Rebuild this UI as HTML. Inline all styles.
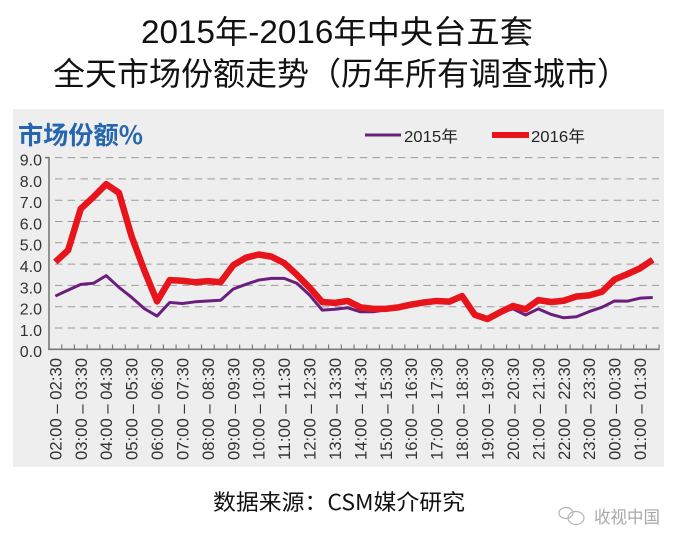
<!DOCTYPE html>
<html>
<head>
<meta charset="utf-8">
<style>
html,body{margin:0;padding:0;background:#fff;}
svg{display:block;}
</style>
</head>
<body>
<svg width="682" height="541" viewBox="0 0 682 541" xmlns="http://www.w3.org/2000/svg">
  <rect x="0" y="0" width="682" height="541" fill="#ffffff"/>
  <!-- Titles -->
  <text x="141" y="43" font-family="'Liberation Sans','Noto Sans CJK SC',sans-serif" font-size="32" fill="#111" textLength="392" lengthAdjust="spacingAndGlyphs">2015年-2016年中央台五套</text>
  <text x="53" y="85" font-family="'Noto Sans CJK SC',sans-serif" font-size="32" fill="#111" textLength="576" lengthAdjust="spacingAndGlyphs">全天市场份额走势（历年所有调查城市）</text>

  <!-- Gray panel -->
  <rect x="13" y="109" width="651" height="358" fill="#eeeeee"/>

  <!-- Panel title -->
  <text x="18" y="144" font-family="'Noto Sans CJK SC',sans-serif" font-size="25" font-weight="bold" fill="#2566ae" textLength="125" lengthAdjust="spacingAndGlyphs">市场份额%</text>

  <!-- Legend -->
  <line x1="365" y1="135" x2="401" y2="135" stroke="#6b1f7c" stroke-width="3"/>
  <text x="404" y="142" font-family="'Liberation Sans','Noto Sans CJK SC',sans-serif" font-size="16" fill="#222" textLength="54" lengthAdjust="spacingAndGlyphs">2015年</text>
  <line x1="492" y1="135" x2="529" y2="135" stroke="#e8141c" stroke-width="6"/>
  <text x="531" y="142" font-family="'Liberation Sans','Noto Sans CJK SC',sans-serif" font-size="16" fill="#222" textLength="54" lengthAdjust="spacingAndGlyphs">2016年</text>

  <!-- Gridlines -->
  <g stroke="#9a9a9a" stroke-width="1" stroke-dasharray="7.5 5.2">
    <line x1="55" y1="157.6" x2="659" y2="157.6"/>
    <line x1="55" y1="178.9" x2="659" y2="178.9"/>
    <line x1="55" y1="200.2" x2="659" y2="200.2"/>
    <line x1="55" y1="221.5" x2="659" y2="221.5"/>
    <line x1="55" y1="242.8" x2="659" y2="242.8"/>
    <line x1="55" y1="264.1" x2="659" y2="264.1"/>
    <line x1="55" y1="285.4" x2="659" y2="285.4"/>
    <line x1="55" y1="306.7" x2="659" y2="306.7"/>
    <line x1="55" y1="328.0" x2="659" y2="328.0"/>
  </g>

  <!-- Y labels -->
  <g font-family="'Liberation Sans',sans-serif" font-size="16" fill="#333" text-anchor="end">
    <text x="42" y="165.5">9.0</text>
    <text x="42" y="186.8">8.0</text>
    <text x="42" y="208.1">7.0</text>
    <text x="42" y="229.4">6.0</text>
    <text x="42" y="250.7">5.0</text>
    <text x="42" y="272.0">4.0</text>
    <text x="42" y="293.3">3.0</text>
    <text x="42" y="314.6">2.0</text>
    <text x="42" y="335.9">1.0</text>
    <text x="42" y="357.2">0.0</text>
  </g>

  <!-- Axes -->
  <g stroke="#7a7a7a" stroke-width="1.6" fill="none">
    <line x1="49" y1="157" x2="49" y2="349.3"/>
    <line x1="45" y1="157.6" x2="49" y2="157.6"/>
    <line x1="48.2" y1="349.3" x2="659.5" y2="349.3"/>
  </g>
  <g stroke="#7a7a7a" stroke-width="1.2">
    <line x1="61.71" y1="349" x2="61.71" y2="344.5"/><line x1="74.42" y1="349" x2="74.42" y2="344.5"/><line x1="87.13" y1="349" x2="87.13" y2="344.5"/><line x1="99.84" y1="349" x2="99.84" y2="344.5"/><line x1="112.55" y1="349" x2="112.55" y2="344.5"/><line x1="125.26" y1="349" x2="125.26" y2="344.5"/><line x1="137.97" y1="349" x2="137.97" y2="344.5"/><line x1="150.68" y1="349" x2="150.68" y2="344.5"/><line x1="163.39" y1="349" x2="163.39" y2="344.5"/><line x1="176.1" y1="349" x2="176.1" y2="344.5"/><line x1="188.81" y1="349" x2="188.81" y2="344.5"/><line x1="201.52" y1="349" x2="201.52" y2="344.5"/><line x1="214.23" y1="349" x2="214.23" y2="344.5"/><line x1="226.94" y1="349" x2="226.94" y2="344.5"/><line x1="239.65" y1="349" x2="239.65" y2="344.5"/><line x1="252.36" y1="349" x2="252.36" y2="344.5"/><line x1="265.07" y1="349" x2="265.07" y2="344.5"/><line x1="277.78" y1="349" x2="277.78" y2="344.5"/><line x1="290.49" y1="349" x2="290.49" y2="344.5"/><line x1="303.2" y1="349" x2="303.2" y2="344.5"/><line x1="315.91" y1="349" x2="315.91" y2="344.5"/><line x1="328.62" y1="349" x2="328.62" y2="344.5"/><line x1="341.33" y1="349" x2="341.33" y2="344.5"/><line x1="354.04" y1="349" x2="354.04" y2="344.5"/><line x1="366.75" y1="349" x2="366.75" y2="344.5"/><line x1="379.46" y1="349" x2="379.46" y2="344.5"/><line x1="392.17" y1="349" x2="392.17" y2="344.5"/><line x1="404.88" y1="349" x2="404.88" y2="344.5"/><line x1="417.59" y1="349" x2="417.59" y2="344.5"/><line x1="430.3" y1="349" x2="430.3" y2="344.5"/><line x1="443.01" y1="349" x2="443.01" y2="344.5"/><line x1="455.72" y1="349" x2="455.72" y2="344.5"/><line x1="468.43" y1="349" x2="468.43" y2="344.5"/><line x1="481.14" y1="349" x2="481.14" y2="344.5"/><line x1="493.85" y1="349" x2="493.85" y2="344.5"/><line x1="506.56" y1="349" x2="506.56" y2="344.5"/><line x1="519.27" y1="349" x2="519.27" y2="344.5"/><line x1="531.98" y1="349" x2="531.98" y2="344.5"/><line x1="544.69" y1="349" x2="544.69" y2="344.5"/><line x1="557.4" y1="349" x2="557.4" y2="344.5"/><line x1="570.11" y1="349" x2="570.11" y2="344.5"/><line x1="582.82" y1="349" x2="582.82" y2="344.5"/><line x1="595.53" y1="349" x2="595.53" y2="344.5"/><line x1="608.24" y1="349" x2="608.24" y2="344.5"/><line x1="620.95" y1="349" x2="620.95" y2="344.5"/><line x1="633.66" y1="349" x2="633.66" y2="344.5"/><line x1="646.37" y1="349" x2="646.37" y2="344.5"/><line x1="659.08" y1="349.5" x2="659.08" y2="344.5"/>
  </g>

  <!-- X labels -->
  <g font-family="'Liberation Sans',sans-serif" font-size="17" fill="#333">
    <text transform="translate(61.4,460) rotate(-90)" textLength="102" lengthAdjust="spacingAndGlyphs">02:00 – 02:30</text>
    <text transform="translate(86.8,460) rotate(-90)" textLength="102" lengthAdjust="spacingAndGlyphs">03:00 – 03:30</text>
    <text transform="translate(112.2,460) rotate(-90)" textLength="102" lengthAdjust="spacingAndGlyphs">04:00 – 04:30</text>
    <text transform="translate(137.6,460) rotate(-90)" textLength="102" lengthAdjust="spacingAndGlyphs">05:00 – 05:30</text>
    <text transform="translate(163.0,460) rotate(-90)" textLength="102" lengthAdjust="spacingAndGlyphs">06:00 – 06:30</text>
    <text transform="translate(188.5,460) rotate(-90)" textLength="102" lengthAdjust="spacingAndGlyphs">07:00 – 07:30</text>
    <text transform="translate(213.9,460) rotate(-90)" textLength="102" lengthAdjust="spacingAndGlyphs">08:00 – 08:30</text>
    <text transform="translate(239.3,460) rotate(-90)" textLength="102" lengthAdjust="spacingAndGlyphs">09:00 – 09:30</text>
    <text transform="translate(264.7,460) rotate(-90)" textLength="102" lengthAdjust="spacingAndGlyphs">10:00 – 10:30</text>
    <text transform="translate(290.1,460) rotate(-90)" textLength="102" lengthAdjust="spacingAndGlyphs">11:00 – 11:30</text>
    <text transform="translate(315.6,460) rotate(-90)" textLength="102" lengthAdjust="spacingAndGlyphs">12:00 – 12:30</text>
    <text transform="translate(341.0,460) rotate(-90)" textLength="102" lengthAdjust="spacingAndGlyphs">13:00 – 13:30</text>
    <text transform="translate(366.4,460) rotate(-90)" textLength="102" lengthAdjust="spacingAndGlyphs">14:00 – 14:30</text>
    <text transform="translate(391.8,460) rotate(-90)" textLength="102" lengthAdjust="spacingAndGlyphs">15:00 – 15:30</text>
    <text transform="translate(417.2,460) rotate(-90)" textLength="102" lengthAdjust="spacingAndGlyphs">16:00 – 16:30</text>
    <text transform="translate(442.7,460) rotate(-90)" textLength="102" lengthAdjust="spacingAndGlyphs">17:00 – 17:30</text>
    <text transform="translate(468.1,460) rotate(-90)" textLength="102" lengthAdjust="spacingAndGlyphs">18:00 – 18:30</text>
    <text transform="translate(493.5,460) rotate(-90)" textLength="102" lengthAdjust="spacingAndGlyphs">19:00 – 19:30</text>
    <text transform="translate(518.9,460) rotate(-90)" textLength="102" lengthAdjust="spacingAndGlyphs">20:00 – 20:30</text>
    <text transform="translate(544.3,460) rotate(-90)" textLength="102" lengthAdjust="spacingAndGlyphs">21:00 – 21:30</text>
    <text transform="translate(569.8,460) rotate(-90)" textLength="102" lengthAdjust="spacingAndGlyphs">22:00 – 22:30</text>
    <text transform="translate(595.2,460) rotate(-90)" textLength="102" lengthAdjust="spacingAndGlyphs">23:00 – 23:30</text>
    <text transform="translate(620.6,460) rotate(-90)" textLength="102" lengthAdjust="spacingAndGlyphs">00:00 – 00:30</text>
    <text transform="translate(646.0,460) rotate(-90)" textLength="102" lengthAdjust="spacingAndGlyphs">01:00 – 01:30</text>
  </g>

  <!-- 2015 series -->
  <polyline fill="none" stroke="#6b1f7c" stroke-width="3" stroke-linejoin="round" points="55.35,296.05 68.06,290.09 80.77,284.33 93.48,283.27 106.19,275.6 118.9,287.32 131.61,297.33 144.32,308.62 157.03,316.07 169.74,302.44 182.45,303.5 195.16,301.8 207.87,300.95 220.58,300.31 233.29,289.02 246.0,284.33 258.71,280.07 271.42,278.37 284.13,278.37 296.84,283.27 309.55,294.98 322.26,310.11 334.97,309.26 347.68,307.76 360.39,311.81 373.1,311.81 385.81,309.89 398.52,307.76 411.23,305.0 423.94,302.87 436.65,301.37 449.36,302.44 462.07,297.11 474.78,315.22 487.49,319.48 500.2,313.09 512.91,308.83 525.62,315.01 538.33,308.83 551.04,314.37 563.75,317.78 576.46,316.71 589.17,311.6 601.88,307.34 614.59,300.95 627.3,301.16 640.01,298.18 652.72,297.54"/>

  <!-- 2016 series -->
  <polyline fill="none" stroke="#e8141c" stroke-width="6.5" stroke-linejoin="round" points="55.35,261.97 68.06,250.25 80.77,208.72 93.48,197.0 106.19,184.22 118.9,192.74 131.61,236.41 144.32,270.49 157.03,301.37 169.74,280.07 182.45,280.71 195.16,282.2 207.87,281.14 220.58,282.2 233.29,265.16 246.0,257.71 258.71,254.51 271.42,256.64 284.13,263.03 296.84,274.75 309.55,287.53 322.26,302.01 334.97,302.87 347.68,300.95 360.39,307.34 373.1,308.83 385.81,308.83 398.52,307.34 411.23,304.57 423.94,302.44 436.65,300.95 449.36,301.59 462.07,296.05 474.78,314.79 487.49,319.05 500.2,312.24 512.91,306.06 525.62,309.26 538.33,300.1 551.04,302.01 563.75,300.74 576.46,296.48 589.17,295.41 601.88,291.79 614.59,279.44 627.3,274.11 640.01,268.36 652.72,259.84"/>

  <!-- Source -->
  <text x="213" y="510" font-family="'Noto Sans CJK SC',sans-serif" font-size="22" fill="#111" textLength="252" lengthAdjust="spacingAndGlyphs">数据来源：CSM媒介研究</text>

  <!-- Watermark -->
  <g fill="none" stroke="#b5b5b5" stroke-width="1.2">
    <ellipse cx="566" cy="513" rx="7" ry="5.5"/>
    <ellipse cx="576" cy="518" rx="8" ry="6.5"/>
  </g>
  <text x="594" y="523" font-family="'Noto Sans CJK SC',sans-serif" font-size="17" fill="#a8a8a8" textLength="66" lengthAdjust="spacingAndGlyphs">收视中国</text>
</svg>
</body>
</html>
